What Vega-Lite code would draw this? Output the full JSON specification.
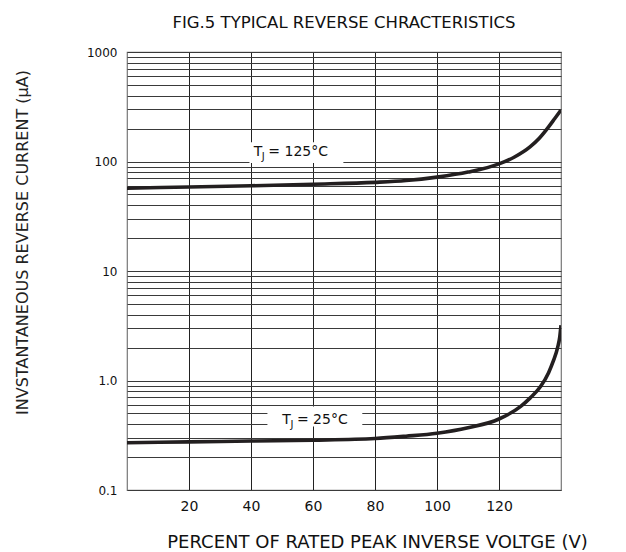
{
  "$schema": "https://vega.github.io/schema/vega-lite/v6.json",
  "width": 434,
  "height": 438,
  "autosize": "none",
  "padding": {"left": 127, "top": 52, "right": 65, "bottom": 62},
  "background": "white",
  "config": {
    "font": "DejaVu Sans",
    "view": {"stroke": "#777", "strokeWidth": 1.2}
  },
  "title": {
    "text": "FIG.5 TYPICAL REVERSE CHRACTERISTICS",
    "font": "DejaVu Sans",
    "fontSize": 16.5,
    "fontWeight": "normal",
    "color": "#111",
    "anchor": "middle",
    "offset": 15
  },
  "datasets": {
    "curves": [
      {"series": "125", "x": 0, "y": 57},
      {"series": "125", "x": 20, "y": 58.5},
      {"series": "125", "x": 40, "y": 60},
      {"series": "125", "x": 60, "y": 62},
      {"series": "125", "x": 80, "y": 64.5},
      {"series": "125", "x": 90, "y": 67},
      {"series": "125", "x": 100, "y": 72},
      {"series": "125", "x": 110, "y": 80},
      {"series": "125", "x": 120, "y": 95},
      {"series": "125", "x": 125, "y": 110},
      {"series": "125", "x": 130, "y": 136},
      {"series": "125", "x": 133, "y": 163},
      {"series": "125", "x": 136, "y": 207},
      {"series": "125", "x": 138, "y": 247},
      {"series": "125", "x": 140, "y": 295},
      {"series": "25", "x": 0, "y": 0.27},
      {"series": "25", "x": 20, "y": 0.275},
      {"series": "25", "x": 40, "y": 0.28},
      {"series": "25", "x": 60, "y": 0.285},
      {"series": "25", "x": 80, "y": 0.295},
      {"series": "25", "x": 90, "y": 0.31},
      {"series": "25", "x": 100, "y": 0.33},
      {"series": "25", "x": 110, "y": 0.37},
      {"series": "25", "x": 120, "y": 0.445},
      {"series": "25", "x": 127, "y": 0.58},
      {"series": "25", "x": 130, "y": 0.69},
      {"series": "25", "x": 133.4, "y": 0.88},
      {"series": "25", "x": 136, "y": 1.18},
      {"series": "25", "x": 137.5, "y": 1.5},
      {"series": "25", "x": 139, "y": 2.05},
      {"series": "25", "x": 139.6, "y": 2.5},
      {"series": "25", "x": 140, "y": 3.2}
    ],
    "labels": [
      {"x": 45.6, "y": 112, "bx0": 39.5, "bx1": 69.8, "by0": 97, "by1": 150, "rest": "= 125°C"},
      {"x": 54.8, "y": 0.398, "bx0": 45.3, "bx1": 75.9, "by0": 0.38, "by1": 0.58, "rest": "= 25°C"}
    ]
  },
  "layer": [
    {
      "data": {"name": "curves"},
      "mark": {"type": "line", "interpolate": "monotone", "strokeWidth": 3.6, "color": "#231f20", "clip": true},
      "encoding": {
        "detail": {"field": "series", "type": "nominal"},
        "x": {
          "field": "x", "type": "quantitative",
          "scale": {"domain": [0, 140], "nice": false, "zero": false},
          "axis": {
            "values": [20, 40, 60, 80, 100, 120],
            "grid": true, "gridColor": "#222", "gridWidth": 1,
            "domain": false, "ticks": false,
            "labelFont": "DejaVu Sans", "labelFontSize": 14, "labelColor": "#111",
            "labelPadding": 9,
            "title": "PERCENT OF RATED PEAK INVERSE VOLTGE  (V)",
            "titleFont": "DejaVu Sans", "titleFontSize": 18, "titleFontWeight": "normal",
            "titleColor": "#111", "titleX": 250, "titleAlign": "center", "titlePadding": 20
          }
        },
        "y": {
          "field": "y", "type": "quantitative",
          "scale": {"type": "log", "domain": [0.1, 1000], "nice": false},
          "axis": {
            "values": [0.1, 0.2, 0.3, 0.4, 0.5, 0.6, 0.7, 0.8, 0.9, 1, 2, 3, 4, 5, 6, 7, 8, 9, 10, 20, 30, 40, 50, 60, 70, 80, 90, 100, 200, 300, 400, 500, 600, 700, 800, 900, 1000],
            "labelExpr": "datum.value == 1000 ? '1000' : datum.value == 100 ? '100' : datum.value == 10 ? '10' : datum.value == 1 ? '1.0' : abs(datum.value - 0.1) < 1e-9 ? '0.1' : ''",
            "grid": true, "gridColor": "#3a3a3a", "gridWidth": 1,
            "domain": false, "ticks": false,
            "labelFont": "DejaVu Sans", "labelFontSize": 12, "labelColor": "#111",
            "labelPadding": 10,
            "title": "INVSTANTANEOUS REVERSE CURRENT (μA)",
            "titleFont": "DejaVu Sans", "titleFontSize": 16, "titleFontWeight": "normal",
            "titleColor": "#222", "titleX": -105, "titleY": 190, "titleAlign": "center", "titleBaseline": "middle", "titleAngle": -90
          }
        }
      }
    },
    {
      "data": {"name": "labels"},
      "mark": {"type": "rect", "fill": "white"},
      "encoding": {
        "x": {"field": "bx0", "type": "quantitative"},
        "x2": {"field": "bx1"},
        "y": {"field": "by0", "type": "quantitative"},
        "y2": {"field": "by1"}
      }
    },
    {
      "data": {"name": "labels"},
      "mark": {"type": "text", "text": "T", "align": "right", "baseline": "alphabetic", "dx": -6, "fontSize": 14, "color": "#111", "font": "DejaVu Sans"},
      "encoding": {
        "x": {"field": "x", "type": "quantitative"},
        "y": {"field": "y", "type": "quantitative"}
      }
    },
    {
      "data": {"name": "labels"},
      "mark": {"type": "text", "text": "J", "align": "left", "baseline": "alphabetic", "dx": -6.5, "dy": 4, "fontSize": 10, "color": "#111", "font": "DejaVu Sans"},
      "encoding": {
        "x": {"field": "x", "type": "quantitative"},
        "y": {"field": "y", "type": "quantitative"}
      }
    },
    {
      "data": {"name": "labels"},
      "mark": {"type": "text", "align": "left", "baseline": "alphabetic", "dx": 0, "fontSize": 14, "color": "#111", "font": "DejaVu Sans"},
      "encoding": {
        "x": {"field": "x", "type": "quantitative"},
        "y": {"field": "y", "type": "quantitative"},
        "text": {"field": "rest"}
      }
    }
  ]
}
